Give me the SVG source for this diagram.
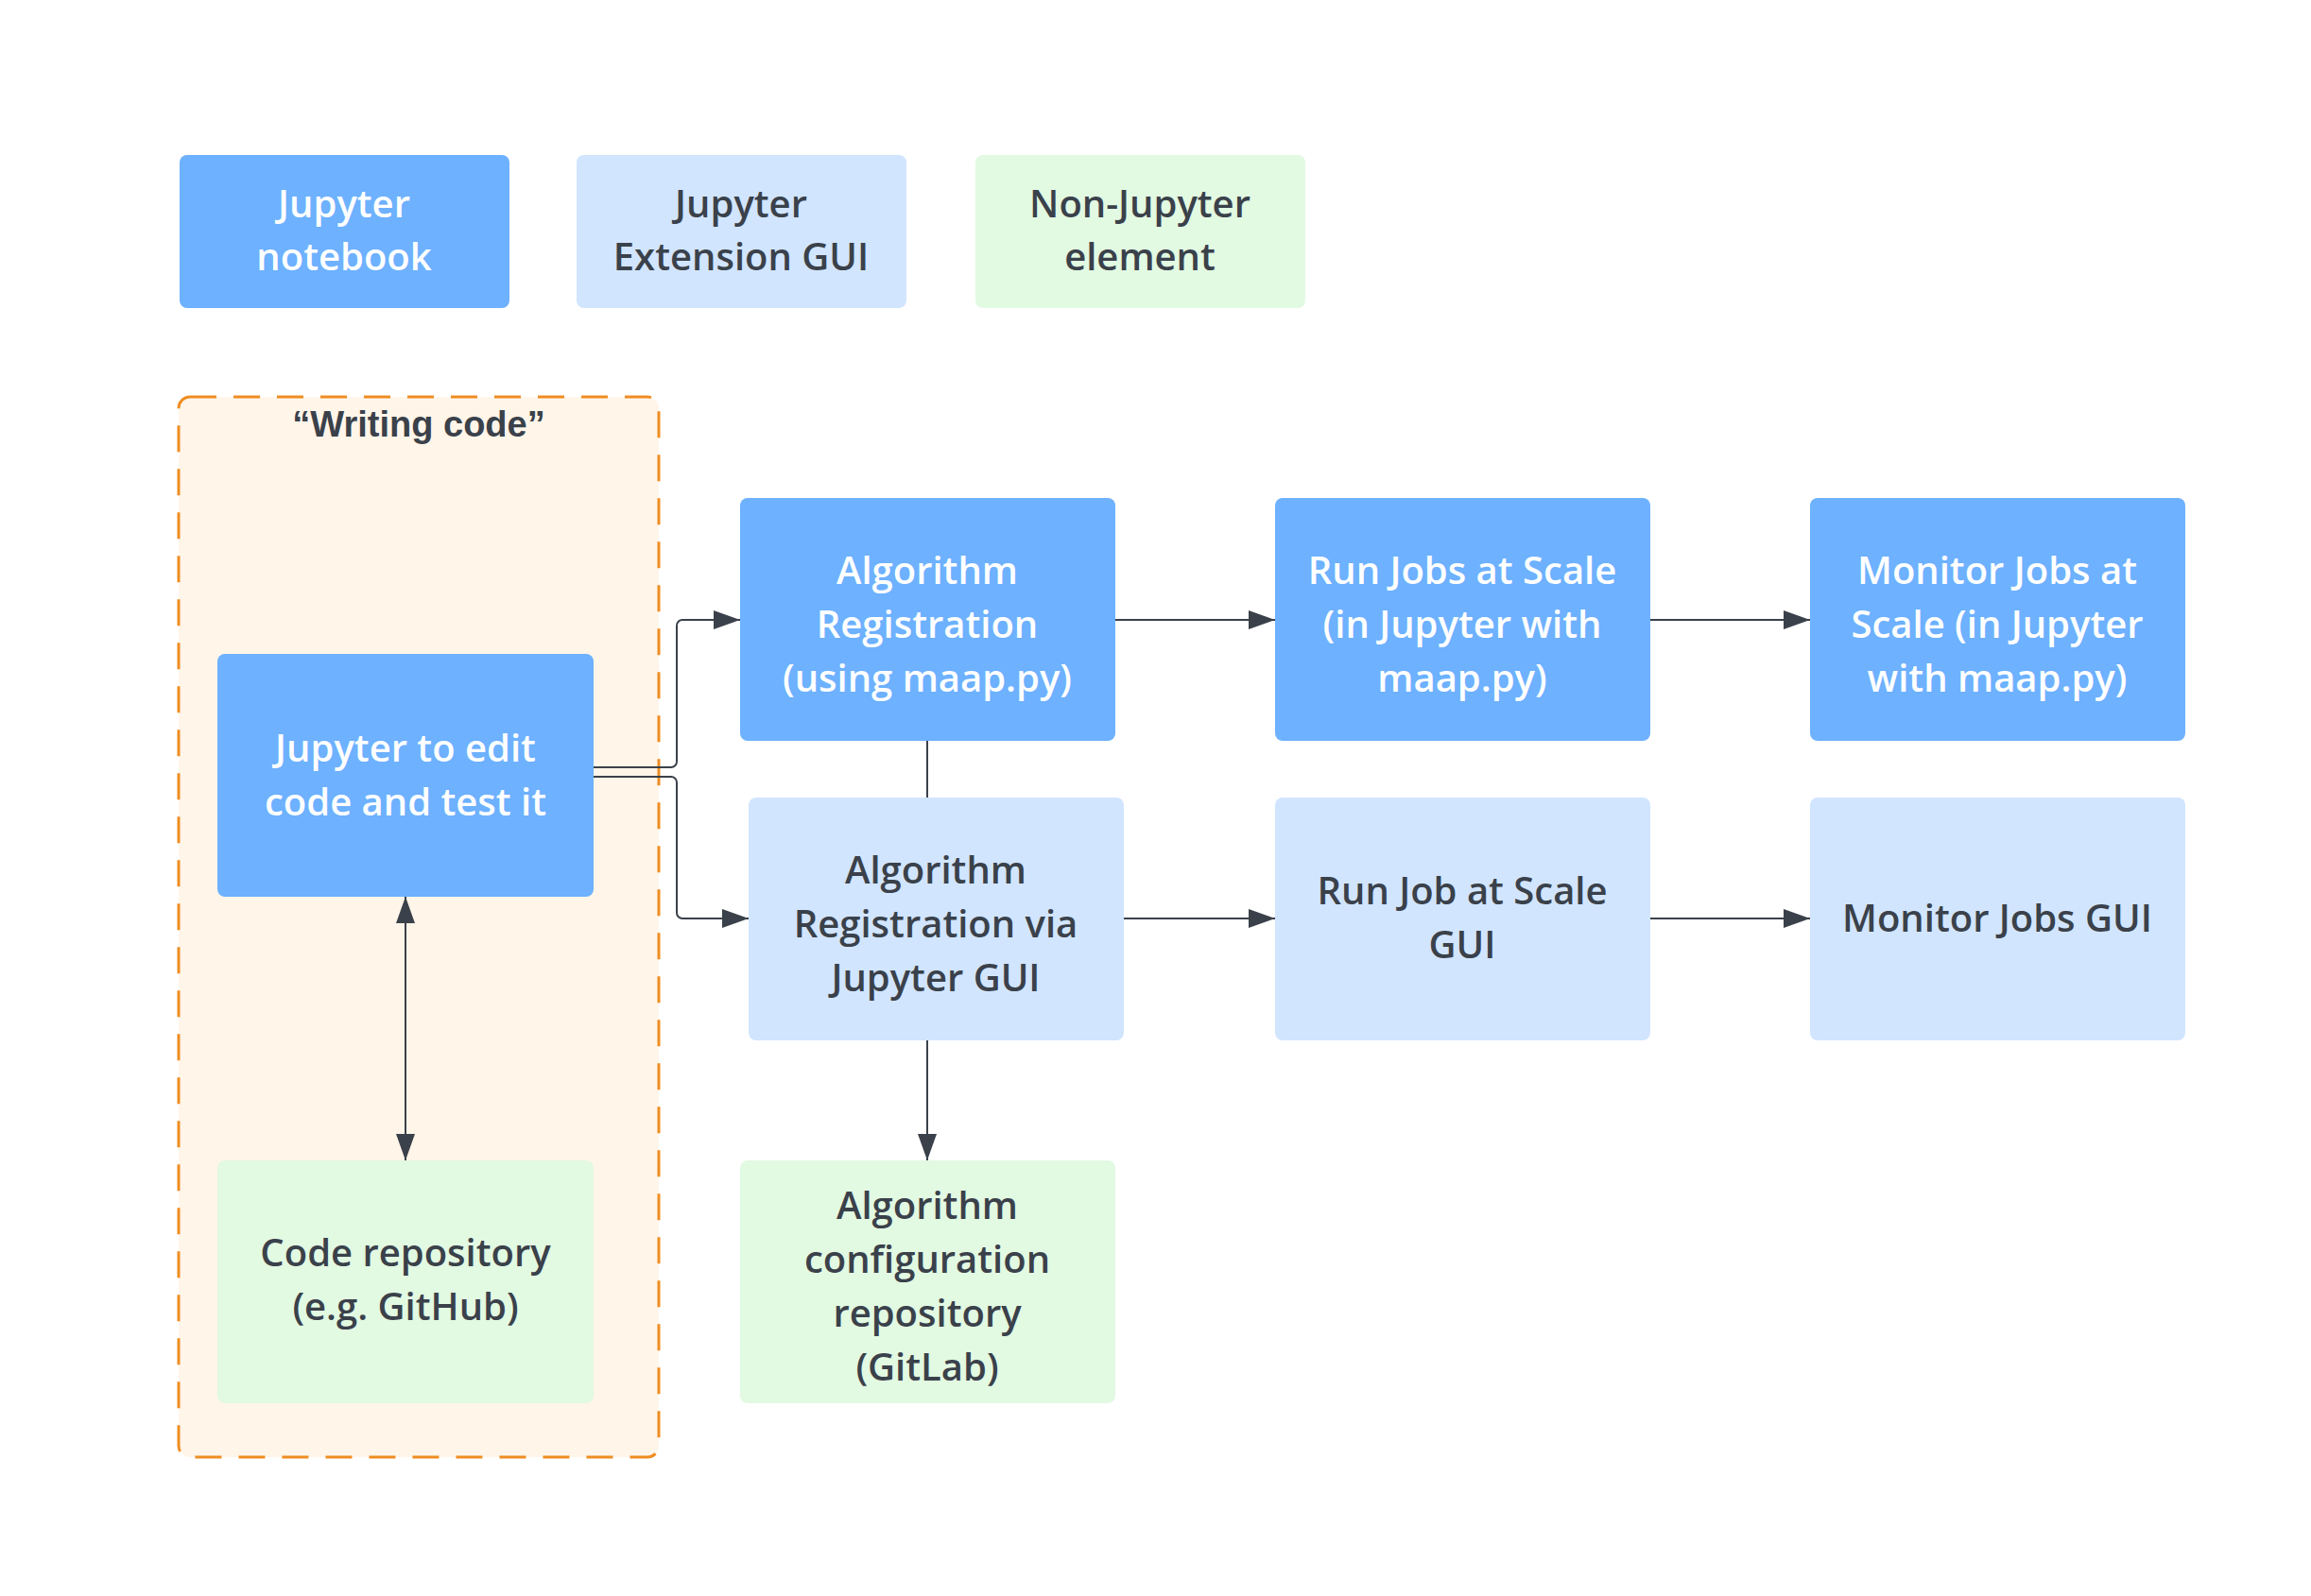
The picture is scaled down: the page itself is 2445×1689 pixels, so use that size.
<svg xmlns="http://www.w3.org/2000/svg" width="2445" height="1689" viewBox="0 0 2445 1689">
<style>
text{font-family:"Open Sans","Noto Sans",sans-serif;font-weight:600;font-size:40px;text-anchor:middle}
.d{fill:#6DB1FF}.l{fill:#D1E5FF}.g{fill:#E2F9E2}
.w{fill:#FFFFFF}.k{fill:#3A414A}
.c{fill:none;stroke:#3A414A;stroke-width:2}
</style>
<defs><marker id="a" viewBox="0 0 10 10" refX="10" refY="5" markerWidth="14" markerHeight="14" markerUnits="userSpaceOnUse" orient="auto-start-reverse"><path d="M0,0L10,5L0,10z" fill="#3A414A"/></marker>
<marker id="b" viewBox="0 0 10 10" refX="10" refY="5" markerWidth="28" markerHeight="20" markerUnits="userSpaceOnUse" orient="auto-start-reverse" preserveAspectRatio="none"><path d="M0,0L10,5L0,10z" fill="#3A414A"/></marker></defs>
<rect width="2445" height="1689" fill="#fff"/>
<g id="legend1"><rect class="d" x="190" y="164" width="349" height="162" rx="8"/><text class="w" x="364" y="230">Jupyter</text><text class="w" x="364" y="286">notebook</text></g>
<g id="legend2"><rect class="l" x="610" y="164" width="349" height="162" rx="8"/><text class="k" x="784" y="230">Jupyter</text><text class="k" x="784" y="286">Extension GUI</text></g>
<g id="legend3"><rect class="g" x="1032" y="164" width="349" height="162" rx="8"/><text class="k" x="1206" y="230">Non-Jupyter</text><text class="k" x="1206" y="286">element</text></g>
<g id="writing"><rect x="189" y="420" width="508" height="1122" rx="12" fill="#FFF5E9" stroke="#EF8D22" stroke-width="3" stroke-dasharray="28,18"/><text class="k" x="443" y="462" style="font-family:'Liberation Sans',Arial,sans-serif;font-weight:700;font-size:38px">“Writing code”</text></g>
<g id="edit"><rect class="d" x="230" y="692" width="398" height="257" rx="8"/><text class="w" x="429" y="806">Jupyter to edit</text><text class="w" x="429" y="863">code and test it</text></g>
<g id="repo"><rect class="g" x="230" y="1228" width="398" height="257" rx="8"/><text class="k" x="429" y="1340">Code repository</text><text class="k" x="429" y="1397">(e.g. GitHub)</text></g>
<g id="algreg"><rect class="d" x="783" y="527" width="397" height="257" rx="8"/><text class="w" x="981" y="618">Algorithm</text><text class="w" x="981" y="675">Registration</text><text class="w" x="981" y="732">(using maap.py)</text></g>
<g id="algreggui"><rect class="l" x="792" y="844" width="397" height="257" rx="8"/><text class="k" x="990" y="935">Algorithm</text><text class="k" x="990" y="992">Registration via</text><text class="k" x="990" y="1049">Jupyter GUI</text></g>
<g id="algconf"><rect class="g" x="783" y="1228" width="397" height="257" rx="8"/><text class="k" x="981" y="1290">Algorithm</text><text class="k" x="981" y="1347">configuration</text><text class="k" x="981" y="1404">repository</text><text class="k" x="981" y="1461">(GitLab)</text></g>
<g id="runjobs"><rect class="d" x="1349" y="527" width="397" height="257" rx="8"/><text class="w" x="1547" y="618">Run Jobs at Scale</text><text class="w" x="1547" y="675">(in Jupyter with</text><text class="w" x="1547" y="732">maap.py)</text></g>
<g id="monitor"><rect class="d" x="1915" y="527" width="397" height="257" rx="8"/><text class="w" x="2113" y="618">Monitor Jobs at</text><text class="w" x="2113" y="675">Scale (in Jupyter</text><text class="w" x="2113" y="732">with maap.py)</text></g>
<g id="runjobgui"><rect class="l" x="1349" y="844" width="397" height="257" rx="8"/><text class="k" x="1547" y="957">Run Job at Scale</text><text class="k" x="1547" y="1014">GUI</text></g>
<g id="monitorgui"><rect class="l" x="1915" y="844" width="397" height="257" rx="8"/><text class="k" x="2113" y="986">Monitor Jobs GUI</text></g>
<g id="connectors">
<path class="c" d="M628,812H710a6,6 0 0 0 6,-6V662a6,6 0 0 1 6,-6H783" marker-end="url(#b)"/>
<path class="c" d="M628,822H710a6,6 0 0 1 6,6V966a6,6 0 0 0 6,6H792" marker-end="url(#b)"/>
<path class="c" d="M981,784V844"/>
<path class="c" d="M1180,656H1349" marker-end="url(#b)"/>
<path class="c" d="M1746,656H1915" marker-end="url(#b)"/>
<path class="c" d="M1189,972H1349" marker-end="url(#b)"/>
<path class="c" d="M1746,972H1915" marker-end="url(#b)"/>
<path class="c" d="M981,1101V1228" marker-end="url(#b)"/>
<path class="c" d="M429,949V1228" marker-start="url(#b)" marker-end="url(#b)"/>
</g>
</svg>
